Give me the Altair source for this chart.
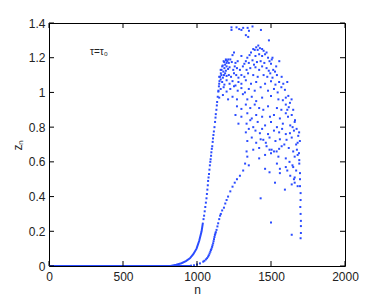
import altair as alt
import pandas as pd

x_ticks = [0, 500, 1000, 1500, 2000]
y_ticks = [0, 0.2, 0.4, 0.6, 0.8, 1.0, 1.2, 1.4]

# solid part of the fast branch (dots merge into a line)
base_n = [0, 820, 860, 895, 925, 952, 975, 997, 1015, 1031, 1040]
base_z = [0, 0, 0.007, 0.016, 0.028, 0.044, 0.068, 0.10, 0.145, 0.20, 0.25]

# fast branch, separated dots
dense_n = [1044, 1048, 1052, 1056, 1060, 1064, 1067, 1070, 1073, 1075, 1078, 1081, 1084, 1087,
           1090, 1092, 1095, 1097, 1100, 1103, 1106, 1108, 1111, 1114, 1118, 1122, 1125, 1127,
           1131, 1134, 1136, 1140, 1144, 1148, 1152, 1156, 1161, 1166, 1174, 1184, 1196, 1211]
dense_z = [0.27, 0.29, 0.315, 0.34, 0.365, 0.39, 0.415, 0.44, 0.465, 0.49, 0.51, 0.53, 0.555, 0.58,
           0.60, 0.615, 0.635, 0.655, 0.675, 0.69, 0.715, 0.735, 0.755, 0.775, 0.80, 0.83, 0.855, 0.875,
           0.90, 0.925, 0.945, 0.975, 1.005, 1.035, 1.065, 1.09, 1.11, 1.13, 1.155, 1.175, 1.185, 1.19]

# slow branch
lower_n = [960, 980, 1000, 1020, 1042, 1050, 1060, 1068, 1075, 1080, 1085, 1090, 1094, 1098, 1102,
           1105, 1109, 1112, 1115, 1118, 1121, 1124, 1127, 1132, 1138, 1143, 1150, 1156, 1161, 1170,
           1182, 1191, 1200, 1210, 1225, 1240, 1255, 1270, 1290, 1312, 1325, 1340]
lower_z = [0.002, 0.004, 0.008, 0.015, 0.025, 0.03, 0.038, 0.045, 0.054, 0.062, 0.072, 0.082, 0.092,
           0.10, 0.11, 0.12, 0.131, 0.143, 0.155, 0.167, 0.179, 0.187, 0.195, 0.208, 0.228, 0.246,
           0.27, 0.29, 0.30, 0.32, 0.336, 0.36, 0.38, 0.40, 0.43, 0.457, 0.48, 0.50, 0.52, 0.55,
           0.59, 0.63]

# chaotic cloud (n, z)
cloud = [
    (1233, 1.375), (1267, 1.375), (1285, 1.365), (1312, 1.372), (1342, 1.372), (1375, 1.38),
    (1351, 1.355), (1233, 1.36), (1432, 1.36), (1300, 1.36), (1346, 1.32), (1486, 1.30),
    (1330, 1.33),
    (1414, 1.27), (1400, 1.26), (1425, 1.255), (1440, 1.25), (1390, 1.245), (1450, 1.24),
    (1380, 1.25), (1410, 1.245),
    (1250, 1.23), (1240, 1.215), (1365, 1.23), (1355, 1.215), (1460, 1.22), (1470, 1.23),
    (1420, 1.22), (1395, 1.21), (1440, 1.21), (1480, 1.20), (1340, 1.20), (1300, 1.21), (1510, 1.20),
    (1180, 1.18), (1195, 1.19), (1205, 1.18), (1215, 1.17), (1225, 1.19), (1235, 1.175),
    (1260, 1.17), (1275, 1.18), (1330, 1.18), (1350, 1.17), (1375, 1.185), (1405, 1.175),
    (1430, 1.18), (1455, 1.17), (1490, 1.18), (1500, 1.165), (1505, 1.19), (1556, 1.18),
    (1320, 1.165), (1385, 1.16), (1200, 1.17), (1190, 1.16),
    (1160, 1.13), (1170, 1.15), (1185, 1.14), (1200, 1.15), (1210, 1.135), (1220, 1.145),
    (1245, 1.13), (1255, 1.15), (1270, 1.14), (1290, 1.13), (1310, 1.15), (1335, 1.13),
    (1360, 1.14), (1395, 1.145), (1420, 1.13), (1440, 1.15), (1470, 1.14), (1485, 1.125),
    (1515, 1.13), (1527, 1.12), (1535, 1.15), (1178, 1.12), (1195, 1.125),
    (1150, 1.09), (1165, 1.10), (1175, 1.085), (1190, 1.11), (1200, 1.095), (1215, 1.10),
    (1230, 1.09), (1250, 1.11), (1265, 1.10), (1280, 1.085), (1300, 1.10), (1320, 1.09),
    (1345, 1.11), (1380, 1.10), (1410, 1.09), (1450, 1.10), (1475, 1.09), (1495, 1.11),
    (1510, 1.085), (1540, 1.10), (1572, 1.09), (1160, 1.075), (1182, 1.10),
    (1150, 1.05), (1170, 1.06), (1185, 1.045), (1200, 1.07), (1220, 1.05), (1240, 1.065),
    (1260, 1.04), (1280, 1.06), (1300, 1.05), (1330, 1.07), (1365, 1.05), (1400, 1.06),
    (1460, 1.05), (1500, 1.065), (1530, 1.045), (1555, 1.06), (1583, 1.05), (1610, 1.06),
    (1145, 1.01), (1160, 1.02), (1180, 1.03), (1200, 1.005), (1225, 1.02), (1250, 1.035),
    (1275, 1.01), (1300, 1.025), (1324, 1.00), (1350, 1.02), (1390, 1.01), (1430, 1.03),
    (1480, 1.01), (1520, 1.02), (1545, 1.00), (1570, 1.03), (1594, 1.015),
    (1150, 0.97), (1175, 0.985), (1210, 0.96), (1240, 0.975), (1270, 0.96), (1310, 0.99),
    (1340, 0.96), (1370, 0.975), (1400, 0.95), (1440, 0.97), (1500, 0.98), (1550, 0.96),
    (1580, 0.955), (1600, 0.97), (1617, 0.98), (1639, 0.96),
    (1270, 0.92), (1300, 0.905), (1330, 0.93), (1360, 0.91), (1390, 0.93), (1420, 0.91),
    (1448, 0.90), (1480, 0.92), (1540, 0.91), (1570, 0.90), (1600, 0.93), (1620, 0.915),
    (1628, 0.94), (1610, 0.90), (1650, 0.90),
    (1260, 0.87), (1300, 0.86), (1340, 0.88), (1370, 0.85), (1400, 0.87), (1440, 0.86),
    (1493, 0.86), (1520, 0.87), (1560, 0.85), (1600, 0.88), (1615, 0.86), (1640, 0.87), (1662, 0.84),
    (1280, 0.82), (1335, 0.82), (1360, 0.84), (1380, 0.80), (1410, 0.83), (1460, 0.81),
    (1500, 0.83), (1540, 0.80), (1580, 0.82), (1630, 0.81), (1646, 0.80), (1673, 0.79), (1660, 0.83),
    (1330, 0.77), (1350, 0.79), (1395, 0.78), (1425, 0.765), (1440, 0.79), (1480, 0.76),
    (1520, 0.78), (1555, 0.77), (1575, 0.79), (1600, 0.76), (1628, 0.765), (1655, 0.78),
    (1684, 0.75), (1690, 0.77),
    (1340, 0.72), (1370, 0.74), (1400, 0.71), (1430, 0.73), (1448, 0.727), (1465, 0.71),
    (1490, 0.74), (1530, 0.72), (1560, 0.73), (1590, 0.70), (1605, 0.727), (1640, 0.74),
    (1680, 0.71), (1695, 0.72), (1670, 0.70),
    (1380, 0.67), (1420, 0.68), (1470, 0.69), (1490, 0.67), (1504, 0.67), (1520, 0.66),
    (1538, 0.66), (1555, 0.675), (1572, 0.69), (1620, 0.68), (1650, 0.66), (1689, 0.65), (1675, 0.67),
    (1335, 0.66), (1420, 0.62), (1460, 0.64), (1500, 0.65), (1550, 0.63), (1600, 0.62),
    (1660, 0.63), (1691, 0.61), (1680, 0.64),
    (1350, 0.58), (1460, 0.56), (1540, 0.59), (1560, 0.56), (1600, 0.57), (1645, 0.58),
    (1691, 0.59), (1670, 0.55), (1625, 0.60), (1650, 0.57),
    (1490, 0.54), (1527, 0.48), (1560, 0.535), (1630, 0.52), (1696, 0.535), (1660, 0.51), (1610, 0.55),
    (1594, 0.44), (1660, 0.48), (1680, 0.46), (1696, 0.46), (1640, 0.47), (1655, 0.50),
    (1430, 0.39), (1500, 0.25), (1640, 0.18),
    (1700, 0.42), (1700, 0.38), (1698, 0.34), (1700, 0.30), (1702, 0.26), (1702, 0.23),
    (1702, 0.19), (1700, 0.16), (1696, 0.50),
]
cloud_n = [p[0] for p in cloud]
cloud_z = [p[1] for p in cloud]

W, H = 296, 243
BLUE = "#2b4cff"
INK = "#222222"
FONT = "Liberation Sans"

line_df = pd.DataFrame({"n": base_n, "z": base_z})
pts_df = pd.DataFrame({"n": dense_n + lower_n + cloud_n, "z": dense_z + lower_z + cloud_z})

xs = alt.Scale(domain=[0, 2000], nice=False, zero=False)
ys = alt.Scale(domain=[0, 1.4], nice=False, zero=False)

x_axis = alt.Axis(values=x_ticks, format="d", labelPadding=5, title="n", titlePadding=2)
y_axis = alt.Axis(values=y_ticks, format="~g", labelPadding=4, title="zₙ", titlePadding=4)

line = alt.Chart(line_df).mark_line(color=BLUE, strokeWidth=2, clip=True).encode(
    x=alt.X("n:Q", scale=xs, axis=x_axis),
    y=alt.Y("z:Q", scale=ys, axis=y_axis),
)
lower_line = alt.Chart(pd.DataFrame({"n": [0, 960], "z": [0, 0]})).mark_line(
    color=BLUE, strokeWidth=2, clip=True).encode(
    x=alt.X("n:Q", scale=xs, axis=x_axis), y=alt.Y("z:Q", scale=ys, axis=y_axis))

points = alt.Chart(pts_df).mark_square(size=4, color=BLUE, opacity=1, clip=True).encode(
    x=alt.X("n:Q", scale=xs, axis=x_axis), y=alt.Y("z:Q", scale=ys, axis=y_axis))

xt = pd.DataFrame({"n": x_ticks})
yt = pd.DataFrame({"z": y_ticks})
bottom_ticks = alt.Chart(xt).mark_rule(color="black", strokeWidth=1).encode(
    x=alt.X("n:Q", scale=xs, axis=x_axis), y=alt.value(H), y2=alt.value(H - 5))
top_ticks = alt.Chart(xt).mark_rule(color="black", strokeWidth=1).encode(
    x=alt.X("n:Q", scale=xs, axis=x_axis), y=alt.value(0), y2=alt.value(5))
left_ticks = alt.Chart(yt).mark_rule(color="black", strokeWidth=1).encode(
    y=alt.Y("z:Q", scale=ys, axis=y_axis), x=alt.value(0), x2=alt.value(5))
right_ticks = alt.Chart(yt).mark_rule(color="black", strokeWidth=1).encode(
    y=alt.Y("z:Q", scale=ys, axis=y_axis), x=alt.value(W), x2=alt.value(W - 5))

label = alt.Chart(pd.DataFrame({"t": ["τ=τ₀"]})).mark_text(
    align="left", baseline="middle", fontSize=10, font=FONT, color=INK).encode(
    x=alt.value(41), y=alt.value(29), text="t:N")

chart = alt.layer(
    line, lower_line, points, bottom_ticks, top_ticks, left_ticks, right_ticks, label
).properties(
    width=W, height=H,
    autosize=alt.AutoSizeParams(type="none"),
    padding={"left": 41, "top": 15, "right": 29, "bottom": 33},
    background="white",
).configure_view(stroke="black", strokeWidth=1).configure_axis(
    ticks=False, domain=False, grid=False, labelOverlap=False, labelFlush=False,
    labelFont=FONT, titleFont=FONT, labelFontSize=12, titleFontSize=12,
    titleFontWeight="normal", labelColor=INK, titleColor=INK,
)

chart.save("out.html", embed_options={"renderer": "svg", "actions": False})
